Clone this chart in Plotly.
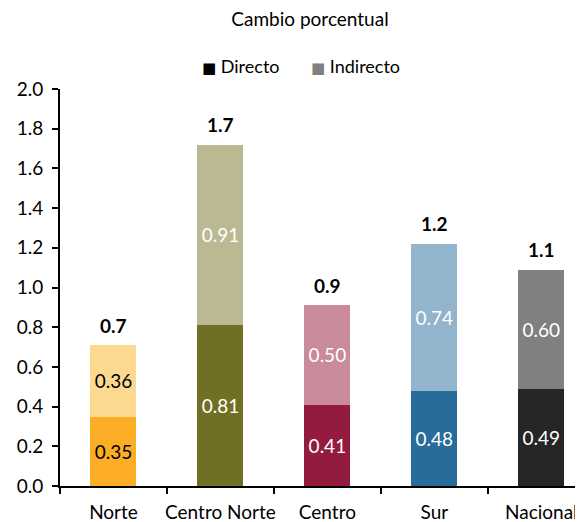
import plotly.graph_objects as go

categories = ["Norte", "Centro Norte", "Centro", "Sur", "Nacional"]
directo = [0.35, 0.81, 0.41, 0.48, 0.49]
indirecto = [0.36, 0.91, 0.50, 0.74, 0.60]
totales = [0.7, 1.7, 0.9, 1.2, 1.1]
directo_labels = ["0.35", "0.81", "0.41", "0.48", "0.49"]
indirecto_labels = ["0.36", "0.91", "0.50", "0.74", "0.60"]
y_ticks = [0, 0.2, 0.4, 0.6, 0.8, 1.0, 1.2, 1.4, 1.6, 1.8, 2.0]
series_names = ["Directo", "Indirecto"]
legend_colors = ["#000000", "#808080"]

col_dir = ["#FBAE25", "#716F24", "#921B3E", "#286C9C", "#262626"]
col_ind = ["#FDD88F", "#BAB991", "#C98A9A", "#93B4CD", "#808080"]
txt_col = ["#000000", "#FFFFFF", "#FFFFFF", "#FFFFFF", "#FFFFFF"]

FONT = "Lato"
FS = 19

# page has an 8px body margin; compensate so the figure fills the 583x522 window as in the reference
W, H = 575, 514
L, T, B = 52, 81, 36

fig = go.Figure()
fig.add_trace(go.Bar(x=categories, y=directo, name=series_names[0],
                     marker=dict(color=col_dir, line=dict(width=0)),
                     text=directo_labels, textposition="inside", insidetextanchor="middle",
                     textfont=dict(family=FONT, size=FS, color=txt_col), showlegend=False,
                     width=0.43, hoverinfo="skip", constraintext="none"))
fig.add_trace(go.Bar(x=categories, y=indirecto, name=series_names[1],
                     marker=dict(color=col_ind, line=dict(width=0)),
                     text=indirecto_labels, textposition="inside", insidetextanchor="middle",
                     textfont=dict(family=FONT, size=FS, color=txt_col), showlegend=False,
                     width=0.43, hoverinfo="skip", constraintext="none"))
tops = [d + i for d, i in zip(directo, indirecto)]
for c, t, tot in zip(categories, tops, totales):
    fig.add_annotation(x=c, y=t, yshift=20, text=f"<b>{tot:.1f}</b>", showarrow=False,
                       font=dict(family=FONT, size=FS, color="#000"), yanchor="middle")

# legend (manual, to match the compact Excel-style legend)
legend_x = [(200 - 8 - L) / (W - L), (309 - 8 - L) / (W - L)]
legend_y = 1 + (T - (66 - 8)) / (H - T - B)
for name, colr, lx in zip(series_names, legend_colors, legend_x):
    fig.add_annotation(xref="paper", yref="paper", x=lx, y=legend_y, xanchor="left", yanchor="middle",
                       text=f"<span style='color:{colr};font-family:DejaVu Sans;font-size:15px'>■</span> {name}",
                       showarrow=False, font=dict(family=FONT, size=18, color="#000"))

fig.update_layout(
    barmode="stack",
    width=W, height=H,
    margin=dict(l=L, r=0, t=T, b=B, autoexpand=False),
    plot_bgcolor="white", paper_bgcolor="white",
    font=dict(family=FONT, size=FS, color="#000"),
    showlegend=False,
    title=dict(text="Cambio porcentual", x=(310 - 8) / W, xanchor="center", y=1 - 11 / H, yanchor="middle",
               font=dict(family=FONT, size=19, color="#000")),
    xaxis=dict(type="category", range=[-0.5, 4.39], tickson="boundaries", ticks="outside",
               ticklen=6, tickcolor="#000", tickwidth=1.5, showline=True, linecolor="#000",
               linewidth=2, showgrid=False, tickfont=dict(family=FONT, size=FS), tickangle=0,
               automargin=False, ticklabelstandoff=8),
    yaxis=dict(range=[0, 2.0], tickvals=y_ticks, ticktext=[f"{v:.1f}" for v in y_ticks],
               ticks="outside", ticklen=6, tickcolor="#000", tickwidth=1.5, showline=True,
               linecolor="#000", linewidth=2, showgrid=False, zeroline=False,
               tickfont=dict(family=FONT, size=FS), automargin=False, ticklabelstandoff=5),
)

fig.write_html("out.html")
